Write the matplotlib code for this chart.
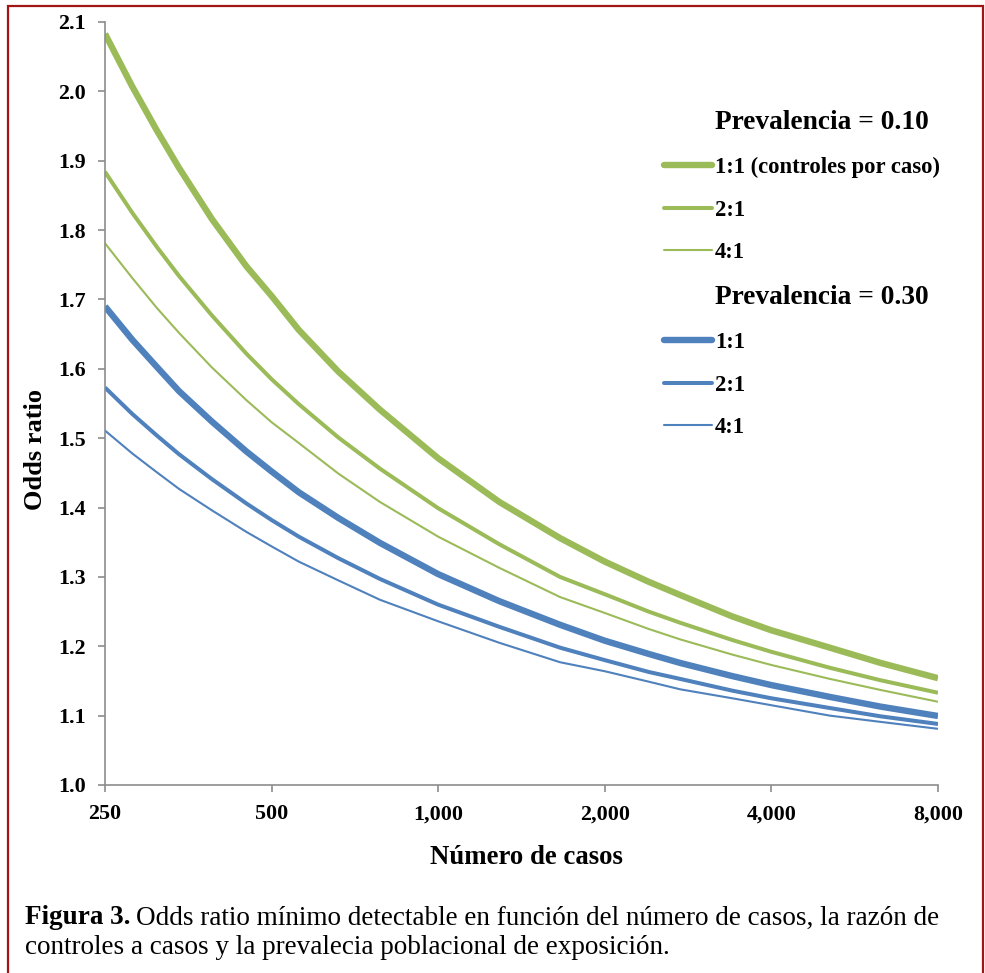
import matplotlib
matplotlib.use('Agg')
import matplotlib.pyplot as plt
from matplotlib.lines import Line2D
from matplotlib.patches import Rectangle
from matplotlib.ticker import FixedLocator, FuncFormatter, NullLocator

plt.rcParams['font.family'] = ['Liberation Serif', 'DejaVu Serif']
plt.rcParams['font.weight'] = 'bold'

# ---- data ----
casos = [250, 280, 310, 340, 390, 450, 500, 560, 660, 785, 1000,
         1290, 1660, 2000, 2400, 2735, 3400, 4000, 5100, 6300, 8000]
prev10_1a1 = [2.083, 2.007, 1.944, 1.890, 1.816, 1.748, 1.705, 1.656, 1.596, 1.541, 1.471,
              1.408, 1.356, 1.322, 1.293, 1.274, 1.243, 1.223, 1.198, 1.176, 1.154]
prev10_2a1 = [1.884, 1.825, 1.776, 1.734, 1.677, 1.622, 1.585, 1.549, 1.501, 1.456, 1.399,
              1.347, 1.300, 1.275, 1.250, 1.234, 1.209, 1.192, 1.169, 1.151, 1.133]
prev10_4a1 = [1.781, 1.731, 1.688, 1.652, 1.602, 1.555, 1.523, 1.493, 1.449, 1.408, 1.358,
              1.313, 1.271, 1.248, 1.225, 1.210, 1.188, 1.173, 1.153, 1.137, 1.120]
prev30_1a1 = [1.690, 1.642, 1.603, 1.568, 1.524, 1.481, 1.452, 1.422, 1.385, 1.349, 1.304,
              1.265, 1.231, 1.208, 1.189, 1.176, 1.157, 1.144, 1.127, 1.113, 1.0995]
prev30_2a1 = [1.573, 1.535, 1.504, 1.477, 1.441, 1.406, 1.382, 1.358, 1.327, 1.297, 1.260,
              1.228, 1.198, 1.180, 1.163, 1.153, 1.136, 1.125, 1.111, 1.099, 1.088]
prev30_4a1 = [1.511, 1.478, 1.451, 1.427, 1.396, 1.365, 1.344, 1.322, 1.295, 1.267, 1.236,
              1.205, 1.177, 1.164, 1.149, 1.138, 1.125, 1.115, 1.100, 1.091, 1.081]

x_ticks = [250, 500, 1000, 2000, 4000, 8000]
y_ticks = [1.0, 1.1, 1.2, 1.3, 1.4, 1.5, 1.6, 1.7, 1.8, 1.9, 2.0, 2.1]

header_10 = 'Prevalencia = 0.10'
header_30 = 'Prevalencia = 0.30'
labels_10 = ['1:1 (controles por caso)', '2:1', '4:1']
labels_30 = ['1:1', '2:1', '4:1']

GREEN = '#9BBB59'
BLUE = '#4F81BD'
widths = [4.6, 2.9, 1.5]

W, H = 985, 973
fig = plt.figure(figsize=(W / 100, H / 100), dpi=100)
ax = fig.add_axes([105 / W, 1 - 785 / H, 833 / W, 763 / H])

handles_10 = []
for vals, lw in zip([prev10_1a1, prev10_2a1, prev10_4a1], widths):
    ln, = ax.plot(casos, vals, color=GREEN, lw=lw, solid_capstyle='butt',
                  solid_joinstyle='round')
    handles_10.append(ln)
handles_30 = []
for vals, lw in zip([prev30_1a1, prev30_2a1, prev30_4a1], widths):
    ln, = ax.plot(casos, vals, color=BLUE, lw=lw, solid_capstyle='butt',
                  solid_joinstyle='round')
    handles_30.append(ln)

ax.set_xscale('log', base=2)
ax.set_xlim(x_ticks[0], x_ticks[-1])
ax.set_ylim(y_ticks[0], y_ticks[-1])
ax.xaxis.set_major_locator(FixedLocator(x_ticks))
ax.xaxis.set_minor_locator(NullLocator())
ax.xaxis.set_major_formatter(FuncFormatter(lambda v, p: f'{int(round(v)):,}'))
ax.yaxis.set_major_locator(FixedLocator(y_ticks))
ax.yaxis.set_major_formatter(FuncFormatter(lambda v, p: f'{v:.1f}'))

for s in ['top', 'right']:
    ax.spines[s].set_visible(False)
for s in ['left', 'bottom']:
    ax.spines[s].set_color('#8C8C8C')
    ax.spines[s].set_linewidth(1.2)
ax.tick_params(axis='both', which='major', direction='out', color='#8C8C8C',
               width=1.2, length=5, labelsize=15.8, labelcolor='black')
ax.tick_params(axis='y', pad=9)
ax.tick_params(axis='x', pad=9)

ax.set_xlabel('Número de casos', fontsize=19.3, fontweight='bold', va='center')
ax.xaxis.set_label_coords((526 - 105) / 833, (785 - 858) / 763)
ax.set_ylabel('Odds ratio', fontsize=19, fontweight='bold', va='center')
ax.yaxis.set_label_coords((35 - 105) / 833, (785 - 450) / 763)

blank = Line2D([], [], color='none')
leg_handles = [blank] + handles_10 + [blank] + handles_30
leg_labels = [header_10] + labels_10 + [header_30] + labels_30
leg = ax.legend(leg_handles, leg_labels, loc='upper left',
                bbox_to_anchor=((664 - 105) / 833, (785 - 110) / 763),
                frameon=False, borderaxespad=0, borderpad=0,
                handlelength=2.12, handletextpad=0.13, labelspacing=0.96,
                prop={'size': 16.3, 'weight': 'bold'})
for t in leg.get_texts():
    if t.get_text().startswith('Prevalencia'):
        t.set_fontsize(19.7)
for h in leg.legend_handles:
    h.set_solid_capstyle('round')

# caption
fs_cap = 19.5
t1 = fig.text(25 / W, 1 - 918 / H, 'Figura 3.', fontsize=fs_cap, fontweight='bold', va='center')
fig.canvas.draw()
bb = t1.get_window_extent(renderer=fig.canvas.get_renderer())
fig.text((bb.x1 + 5) / W, 1 - 918 / H,
         'Odds ratio mínimo detectable en función del número de casos, la razón de',
         fontsize=fs_cap, fontweight='normal', va='center')
fig.text(25 / W, 1 - 948 / H,
         'controles a casos y la prevalecia poblacional de exposición.',
         fontsize=fs_cap, fontweight='normal', va='center')

frame = Rectangle((7.5 / W, -0.05), (983 - 7.5) / W, 1.05 - 5.5 / H,
                  transform=fig.transFigure, fill=False, edgecolor='#A31515',
                  lw=1.6, clip_on=False)
fig.add_artist(frame)

fig.savefig('out.png', dpi=100)
